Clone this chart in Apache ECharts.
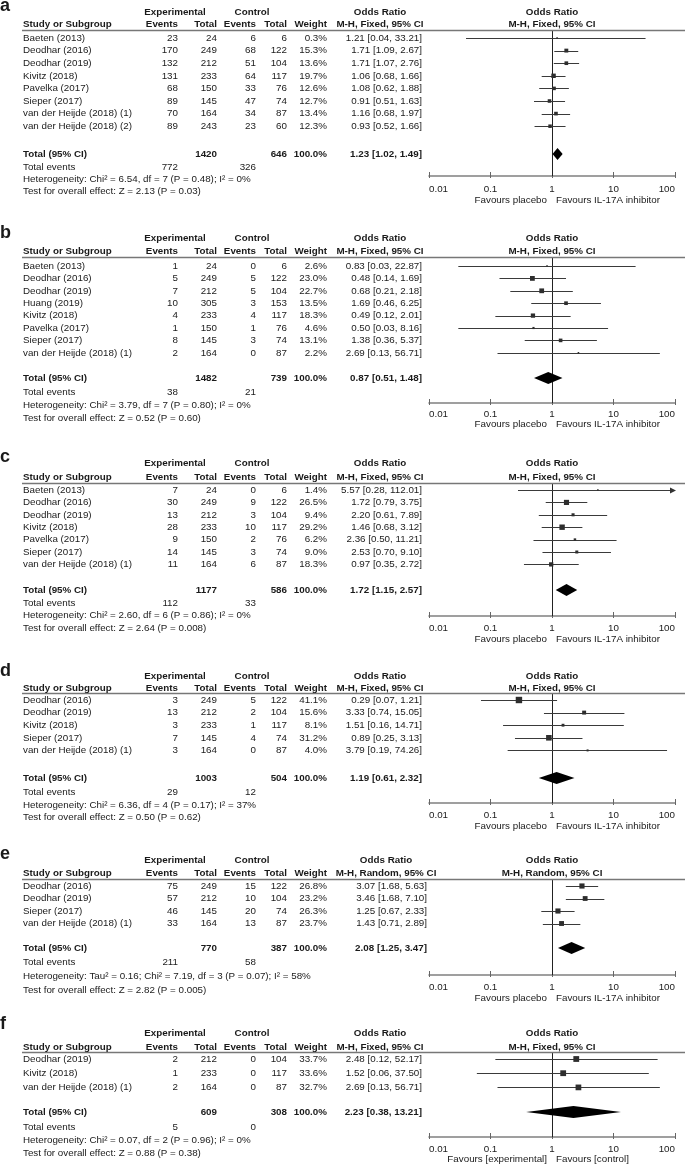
<!DOCTYPE html>
<html><head><meta charset="utf-8">
<script src="https://cdn.jsdelivr.net/npm/echarts@6/dist/echarts.min.js"></script>
<style>html,body{margin:0;padding:0;background:#fff}#c{width:685px;height:1165px}</style>
</head><body><div id="c"></div>
<script>
// ---------- DATA ----------
const tickValues = [0.01, 0.1, 1, 10, 100];
const tickLabels = ['0.01', '0.1', '1', '10', '100'];

// Panel a
const studiesA = ['Baeten (2013)','Deodhar (2016)','Deodhar (2019)','Kivitz (2018)','Pavelka (2017)','Sieper (2017)','van der Heijde (2018) (1)','van der Heijde (2018) (2)'];
const expEventsA = [23,170,132,131,68,89,70,89];
const expTotalA = [24,249,212,233,150,145,164,243];
const ctlEventsA = [6,68,51,64,33,47,34,23];
const ctlTotalA = [6,122,104,117,76,74,87,60];
const weightA = [0.3,15.3,13.6,19.7,12.6,12.7,13.4,12.3];
const orA = [1.21,1.71,1.71,1.06,1.08,0.91,1.16,0.93];
const lowerA = [0.04,1.09,1.07,0.68,0.62,0.51,0.68,0.52];
const upperA = [33.21,2.67,2.76,1.66,1.88,1.63,1.97,1.66];
const totalCountsA = [1420, 646];
const totalEventsA = [772, 326];
const totalOrA = [1.23, 1.02, 1.49];
const hetA = 'Heterogeneity: Chi² = 6.54, df = 7 (P = 0.48); I² = 0%';
const testA = 'Test for overall effect: Z = 2.13 (P = 0.03)';

// Panel b
const studiesB = ['Baeten (2013)','Deodhar (2016)','Deodhar (2019)','Huang (2019)','Kivitz (2018)','Pavelka (2017)','Sieper (2017)','van der Heijde (2018) (1)'];
const expEventsB = [1,5,7,10,4,1,8,2];
const expTotalB = [24,249,212,305,233,150,145,164];
const ctlEventsB = [0,5,5,3,4,1,3,0];
const ctlTotalB = [6,122,104,153,117,76,74,87];
const weightB = [2.6,23.0,22.7,13.5,18.3,4.6,13.1,2.2];
const orB = [0.83,0.48,0.68,1.69,0.49,0.50,1.38,2.69];
const lowerB = [0.03,0.14,0.21,0.46,0.12,0.03,0.36,0.13];
const upperB = [22.87,1.69,2.18,6.25,2.01,8.16,5.37,56.71];
const totalCountsB = [1482, 739];
const totalEventsB = [38, 21];
const totalOrB = [0.87, 0.51, 1.48];
const hetB = 'Heterogeneity: Chi² = 3.79, df = 7 (P = 0.80); I² = 0%';
const testB = 'Test for overall effect: Z = 0.52 (P = 0.60)';

// Panel c
const studiesC = ['Baeten (2013)','Deodhar (2016)','Deodhar (2019)','Kivitz (2018)','Pavelka (2017)','Sieper (2017)','van der Heijde (2018) (1)'];
const expEventsC = [7,30,13,28,9,14,11];
const expTotalC = [24,249,212,233,150,145,164];
const ctlEventsC = [0,9,3,10,2,3,6];
const ctlTotalC = [6,122,104,117,76,74,87];
const weightC = [1.4,26.5,9.4,29.2,6.2,9.0,18.3];
const orC = [5.57,1.72,2.20,1.46,2.36,2.53,0.97];
const lowerC = [0.28,0.79,0.61,0.68,0.50,0.70,0.35];
const upperC = [112.01,3.75,7.89,3.12,11.21,9.10,2.72];
const totalCountsC = [1177, 586];
const totalEventsC = [112, 33];
const totalOrC = [1.72, 1.15, 2.57];
const hetC = 'Heterogeneity: Chi² = 2.60, df = 6 (P = 0.86); I² = 0%';
const testC = 'Test for overall effect: Z = 2.64 (P = 0.008)';

// Panel d
const studiesD = ['Deodhar (2016)','Deodhar (2019)','Kivitz (2018)','Sieper (2017)','van der Heijde (2018) (1)'];
const expEventsD = [3,13,3,7,3];
const expTotalD = [249,212,233,145,164];
const ctlEventsD = [5,2,1,4,0];
const ctlTotalD = [122,104,117,74,87];
const weightD = [41.1,15.6,8.1,31.2,4.0];
const orD = [0.29,3.33,1.51,0.89,3.79];
const lowerD = [0.07,0.74,0.16,0.25,0.19];
const upperD = [1.21,15.05,14.71,3.13,74.26];
const totalCountsD = [1003, 504];
const totalEventsD = [29, 12];
const totalOrD = [1.19, 0.61, 2.32];
const hetD = 'Heterogeneity: Chi² = 6.36, df = 4 (P = 0.17); I² = 37%';
const testD = 'Test for overall effect: Z = 0.50 (P = 0.62)';

// Panel e
const studiesE = ['Deodhar (2016)','Deodhar (2019)','Sieper (2017)','van der Heijde (2018) (1)'];
const expEventsE = [75,57,46,33];
const expTotalE = [249,212,145,164];
const ctlEventsE = [15,10,20,13];
const ctlTotalE = [122,104,74,87];
const weightE = [26.8,23.2,26.3,23.7];
const orE = [3.07,3.46,1.25,1.43];
const lowerE = [1.68,1.68,0.67,0.71];
const upperE = [5.63,7.10,2.33,2.89];
const totalCountsE = [770, 387];
const totalEventsE = [211, 58];
const totalOrE = [2.08, 1.25, 3.47];
const hetE = 'Heterogeneity: Tau² = 0.16; Chi² = 7.19, df = 3 (P = 0.07); I² = 58%';
const testE = 'Test for overall effect: Z = 2.82 (P = 0.005)';

// Panel f
const studiesF = ['Deodhar (2019)','Kivitz (2018)','van der Heijde (2018) (1)'];
const expEventsF = [2,1,2];
const expTotalF = [212,233,164];
const ctlEventsF = [0,0,0];
const ctlTotalF = [104,117,87];
const weightF = [33.7,33.6,32.7];
const orF = [2.48,1.52,2.69];
const lowerF = [0.12,0.06,0.13];
const upperF = [52.17,37.50,56.71];
const totalCountsF = [609, 308];
const totalEventsF = [5, 0];
const totalOrF = [2.23, 0.38, 13.21];
const hetF = 'Heterogeneity: Chi² = 0.07, df = 2 (P = 0.96); I² = 0%';
const testF = 'Test for overall effect: Z = 0.88 (P = 0.38)';

const panelLetters = ['a','b','c','d','e','f'];
const methodLabels = ['M-H, Fixed, 95% CI','M-H, Fixed, 95% CI','M-H, Fixed, 95% CI','M-H, Fixed, 95% CI','M-H, Random, 95% CI','M-H, Fixed, 95% CI'];
const favoursLeft = ['Favours placebo','Favours placebo','Favours placebo','Favours placebo','Favours placebo','Favours [experimental]'];
const favoursRight = ['Favours IL-17A inhibitor','Favours IL-17A inhibitor','Favours IL-17A inhibitor','Favours IL-17A inhibitor','Favours IL-17A inhibitor','Favours [control]'];

// ---------- BUILD ----------
const panels = [
  {studies:studiesA, ee:expEventsA, et:expTotalA, ce:ctlEventsA, ct:ctlTotalA, w:weightA, or:orA, lo:lowerA, hi:upperA, tc:totalCountsA, te:totalEventsA, tor:totalOrA, het:hetA, test:testA},
  {studies:studiesB, ee:expEventsB, et:expTotalB, ce:ctlEventsB, ct:ctlTotalB, w:weightB, or:orB, lo:lowerB, hi:upperB, tc:totalCountsB, te:totalEventsB, tor:totalOrB, het:hetB, test:testB},
  {studies:studiesC, ee:expEventsC, et:expTotalC, ce:ctlEventsC, ct:ctlTotalC, w:weightC, or:orC, lo:lowerC, hi:upperC, tc:totalCountsC, te:totalEventsC, tor:totalOrC, het:hetC, test:testC},
  {studies:studiesD, ee:expEventsD, et:expTotalD, ce:ctlEventsD, ct:ctlTotalD, w:weightD, or:orD, lo:lowerD, hi:upperD, tc:totalCountsD, te:totalEventsD, tor:totalOrD, het:hetD, test:testD},
  {studies:studiesE, ee:expEventsE, et:expTotalE, ce:ctlEventsE, ct:ctlTotalE, w:weightE, or:orE, lo:lowerE, hi:upperE, tc:totalCountsE, te:totalEventsE, tor:totalOrE, het:hetE, test:testE},
  {studies:studiesF, ee:expEventsF, et:expTotalF, ce:ctlEventsF, ct:ctlTotalF, w:weightF, or:orF, lo:lowerF, hi:upperF, tc:totalCountsF, te:totalEventsF, tor:totalOrF, het:hetF, test:testF}
];

// layout (pixels)
const layout = [
  {labelY:6,    expY:12,   headY:24,   ruleY:30,   firstY:38,   sp:12.6, totalY:154,  teY:167,  hetY:179,  testY:191,  axisY:176,  margin:7, favY:200, orR:422, orC:380},
  {labelY:233,  expY:238,  headY:251,  ruleY:257,  firstY:266,  sp:12.4, totalY:378,  teY:392,  hetY:405,  testY:418,  axisY:403,  margin:5, favY:424, orR:422, orC:380},
  {labelY:457,  expY:463,  headY:477,  ruleY:483,  firstY:490,  sp:12.4, totalY:590,  teY:603,  hetY:615,  testY:628,  axisY:616,  margin:6, favY:639, orR:422, orC:380},
  {labelY:671,  expY:676,  headY:688,  ruleY:693,  firstY:700,  sp:12.6, totalY:778,  teY:792,  hetY:805,  testY:817,  axisY:803,  margin:6, favY:826, orR:422, orC:380},
  {labelY:854,  expY:860,  headY:873,  ruleY:879,  firstY:886,  sp:12.5, totalY:948,  teY:962,  hetY:976,  testY:990,  axisY:975,  margin:6, favY:998, orR:427, orC:386},
  {labelY:1024, expY:1033, headY:1047, ruleY:1052, firstY:1059, sp:14.2, totalY:1112, teY:1127, hetY:1140, testY:1153, axisY:1137, margin:6, favY:1159, orR:422, orC:380}
];
const COL = {study:23, ee:178, et:217, ce:256, ct:287, w:327, expC:175, ctlC:252, forC:552, favL:547, favR:556};
const GRID_LEFT = 429, GRID_W = 246;
const FONT = '"Liberation Sans", Arial, Helvetica, sans-serif';
const FS = 9.8;
const TXT = '#1a1a1a';

const grids = [], xAxes = [], yAxes = [], series = [], graphics = [];

function T(x, y, text, align, bold, size) {
  graphics.push({
    type:'text', x:x, y:y, silent:true, z:10,
    style:{text:String(text), fill:TXT, font:(bold?'bold ':'') + (size||FS) + 'px ' + FONT,
      align:align||'left', textAlign:align||'left', verticalAlign:'middle', textVerticalAlign:'middle'}
  });
}
function L(x1, y1, x2, y2, color, w) {
  graphics.push({type:'line', silent:true, z:9, shape:{x1:x1,y1:y1,x2:x2,y2:y2}, style:{stroke:color, lineWidth:w}});
}
const f2 = v => v.toFixed(2);
const orText = (o, l, h) => f2(o) + ' [' + f2(l) + ', ' + f2(h) + ']';

function forestRender(params, api) {
  const lo = api.value(0), hi = api.value(1), est = api.value(2), w = api.value(3), row = api.value(4), kind = api.value(5);
  const yc = api.coord([1, row])[1];
  const xl = api.coord([Math.max(lo, 0.01), row])[0];
  const xh = api.coord([Math.min(hi, 100), row])[0];
  const xe = api.coord([est, row])[0];
  if (kind === 1) {
    return {type:'polygon', shape:{points:[[xl, yc], [xe, yc - 6], [xh, yc], [xe, yc + 6]]}, style:{fill:'#000'}};
  }
  const y = Math.round(yc) + 0.5;
  const s = Math.max(1.6, 1.0 * Math.sqrt(w));
  const children = [
    {type:'line', shape:{x1:xl, y1:y, x2:xh, y2:y}, style:{stroke:'#3a3a3a', lineWidth:1}},
    {type:'rect', shape:{x:xe - s / 2, y:yc - s / 2, width:s, height:s}, style:{fill:'#2e2e2e'}}
  ];
  if (hi > 100) {
    children.push({type:'polygon', shape:{points:[[xh + 1, y], [xh - 5, y - 3], [xh - 5, y + 3]]}, style:{fill:'#333'}});
  }
  return {type:'group', children:children};
}
function refRender(params, api) {
  const x = Math.round(api.coord([api.value(0), api.value(1)])[0]) + 0.5;
  const y1 = api.coord([api.value(0), api.value(1)])[1];
  const y2 = api.coord([api.value(0), api.value(2)])[1];
  return {type:'line', shape:{x1:x, y1:y1, x2:x, y2:y2}, style:{stroke:'#222', lineWidth:1}};
}
function tickFmt(v) {
  const i = tickValues.findIndex(t => Math.abs(Math.log10(t) - Math.log10(v)) < 1e-6);
  return i >= 0 ? tickLabels[i] : '';
}

panels.forEach((p, i) => {
  const g = layout[i];
  const yMin = (g.ruleY - g.firstY) / g.sp;
  const yMax = (g.axisY - g.firstY) / g.sp;
  const totalRow = (g.totalY - g.firstY) / g.sp;

  grids.push({left:GRID_LEFT, width:GRID_W, top:g.ruleY, height:g.axisY - g.ruleY, containLabel:false, outerBoundsMode:'none'});
  yAxes.push({type:'value', gridIndex:i, inverse:true, min:yMin, max:yMax, show:false});
  xAxes.push({
    type:'log', logBase:10, gridIndex:i, min:0.01, max:100, splitNumber:4, position:'bottom',
    axisLine:{show:true, onZero:false, lineStyle:{color:'#808080', width:1.6}},
    axisTick:{show:true, inside:false, length:2, lineStyle:{color:'#666', width:1}},
    axisLabel:{show:true, margin:g.margin + 1, fontSize:FS, fontFamily:'"Liberation Sans", Arial, sans-serif', color:TXT,
      formatter:tickFmt, showMinLabel:true, showMaxLabel:true, alignMinLabel:'left', alignMaxLabel:'right'},
    splitLine:{show:false}, minorTick:{show:false}
  });
  xAxes.push({
    type:'log', logBase:10, gridIndex:i, min:0.01, max:100, splitNumber:4, position:'bottom',
    axisLine:{show:false, onZero:false}, axisTick:{show:true, inside:true, length:4, lineStyle:{color:'#666', width:1}},
    axisLabel:{show:false}, splitLine:{show:false}
  });

  const data = p.studies.map((s, k) => [p.lo[k], p.hi[k], p.or[k], p.w[k], k, 0]);
  data.push([p.tor[1], p.tor[2], p.tor[0], 100, totalRow, 1]);
  series.push({type:'custom', xAxisIndex:2 * i, yAxisIndex:i, renderItem:forestRender, encode:{x:[0, 1, 2], y:4}, data:data, silent:true, clip:false, z:3});
  series.push({type:'custom', xAxisIndex:2 * i, yAxisIndex:i, renderItem:refRender, encode:{x:0, y:[1, 2]}, data:[[1, yMin, yMax]], silent:true, clip:false, z:2});

  // table text
  T(0, g.labelY, panelLetters[i], 'left', true, 18);
  T(COL.expC, g.expY, 'Experimental', 'center', true);
  T(COL.ctlC, g.expY, 'Control', 'center', true);
  T(g.orC, g.expY, 'Odds Ratio', 'center', true);
  T(COL.forC, g.expY, 'Odds Ratio', 'center', true);
  T(COL.study, g.headY, 'Study or Subgroup', 'left', true);
  T(COL.ee, g.headY, 'Events', 'right', true);
  T(COL.et, g.headY, 'Total', 'right', true);
  T(COL.ce, g.headY, 'Events', 'right', true);
  T(COL.ct, g.headY, 'Total', 'right', true);
  T(COL.w, g.headY, 'Weight', 'right', true);
  T(g.orC, g.headY, methodLabels[i], 'center', true);
  T(COL.forC, g.headY, methodLabels[i], 'center', true);
  L(22, g.ruleY + 0.5, 685, g.ruleY + 0.5, '#777', 1.5);

  p.studies.forEach((s, k) => {
    const y = g.firstY + k * g.sp;
    T(COL.study, y, s, 'left');
    T(COL.ee, y, p.ee[k], 'right');
    T(COL.et, y, p.et[k], 'right');
    T(COL.ce, y, p.ce[k], 'right');
    T(COL.ct, y, p.ct[k], 'right');
    T(COL.w, y, p.w[k].toFixed(1) + '%', 'right');
    T(g.orR, y, orText(p.or[k], p.lo[k], p.hi[k]), 'right');
  });
  T(COL.study, g.totalY, 'Total (95% CI)', 'left', true);
  T(COL.et, g.totalY, p.tc[0], 'right', true);
  T(COL.ct, g.totalY, p.tc[1], 'right', true);
  T(COL.w, g.totalY, '100.0%', 'right', true);
  T(g.orR, g.totalY, orText(p.tor[0], p.tor[1], p.tor[2]), 'right', true);
  T(COL.study, g.teY, 'Total events', 'left');
  T(COL.ee, g.teY, p.te[0], 'right');
  T(COL.ce, g.teY, p.te[1], 'right');
  T(COL.study, g.hetY, p.het, 'left');
  T(COL.study, g.testY, p.test, 'left');
  T(COL.favL, g.favY, favoursLeft[i], 'right');
  T(COL.favR, g.favY, favoursRight[i], 'left');
});

const chart = echarts.init(document.getElementById('c'), null, {renderer:'canvas', width:685, height:1165});
chart.setOption({
  animation:false,
  backgroundColor:'#fff',
  grid:grids, xAxis:xAxes, yAxis:yAxes, series:series,
  graphic:{elements:graphics}
});
</script>
</body></html>
